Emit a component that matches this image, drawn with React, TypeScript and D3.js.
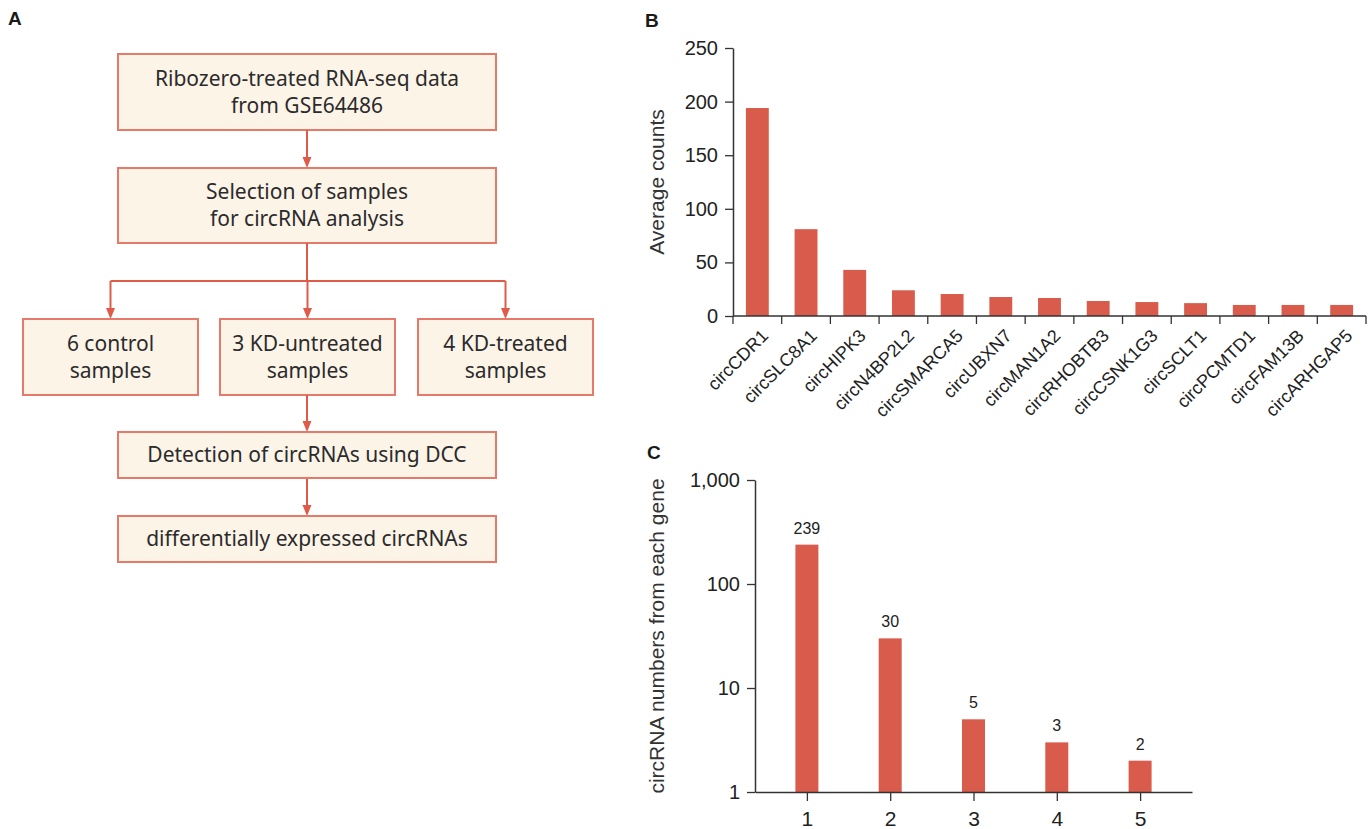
import React, { useEffect, useRef } from "react";
import * as d3 from "d3";

const width = 1370;
const height = 829;

// Panel A - flow chart texts
const flowMain = [
  ["Ribozero-treated RNA-seq data", "from GSE64486"],
  ["Selection of samples", "for circRNA analysis"],
];
const flowGroups = [
  ["6 control", "samples"],
  ["3 KD-untreated", "samples"],
  ["4 KD-treated", "samples"],
];
const flowBottom = [["Detection of circRNAs using DCC"], ["differentially expressed circRNAs"]];

// Panel B - average counts of top circRNAs
const circNames = [
  "circCDR1",
  "circSLC8A1",
  "circHIPK3",
  "circN4BP2L2",
  "circSMARCA5",
  "circUBXN7",
  "circMAN1A2",
  "circRHOBTB3",
  "circCSNK1G3",
  "circSCLT1",
  "circPCMTD1",
  "circFAM13B",
  "circARHGAP5",
];
const avgCounts = [194, 81, 43, 24, 20.5, 17.7, 16.8, 14, 13, 12, 10.3, 10.3, 10.3];
const bTicks = [0, 50, 100, 150, 200, 250];

// Panel C - circRNA numbers per gene
const circPerGeneCats = ["1", "2", "3", "4", "5"];
const circPerGene = [239, 30, 5, 3, 2];
const cTicks = [1, 10, 100, 1000];

const boxStroke = "#e7796a";
const boxFill = "#fdf4e8";
const arrowColor = "#de5b49";
const barColor = "#d95b4b";
const textColor = "#2b2b2b";
const flowFont = "'Noto Sans', sans-serif";
const axisFont = "'Liberation Sans', Arial, sans-serif";

export default function App() {
  const ref = useRef(null);

  useEffect(() => {
    const svg = d3.select(ref.current);
    svg.selectAll("*").remove();

    // panel letters
    const letters = [
      ["A", 8, 25],
      ["B", 645, 27],
      ["C", 647, 459],
    ];
    svg
      .selectAll(".panel-letter")
      .data(letters)
      .join("text")
      .attr("class", "panel-letter")
      .attr("x", d => d[1])
      .attr("y", d => d[2])
      .attr("font-family", axisFont)
      .attr("font-weight", "bold")
      .attr("font-size", 19)
      .attr("fill", "#1a1a1a")
      .text(d => d[0]);

    // ---------- Panel A ----------
    const gA = svg.append("g");

    const drawBox = (x, y, w, h, lines) => {
      gA.append("rect")
        .attr("x", x)
        .attr("y", y)
        .attr("width", w)
        .attr("height", h)
        .attr("fill", boxFill)
        .attr("stroke", boxStroke)
        .attr("stroke-width", 2);
      const cy = y + h / 2;
      const lh = 27;
      lines.forEach((t, i) => {
        gA.append("text")
          .attr("x", x + w / 2)
          .attr("y", cy + (i - (lines.length - 1) / 2) * lh + 7)
          .attr("text-anchor", "middle")
          .attr("font-family", flowFont)
          .attr("font-size", 21)
          .attr("fill", textColor)
          .text(t);
      });
    };

    const arrow = (x, y1, y2) => {
      gA.append("line")
        .attr("x1", x)
        .attr("x2", x)
        .attr("y1", y1)
        .attr("y2", y2 - 6)
        .attr("stroke", arrowColor)
        .attr("stroke-width", 2);
      gA.append("path")
        .attr("d", `M${x - 4.5},${y2 - 11}L${x + 4.5},${y2 - 11}L${x},${y2}Z`)
        .attr("fill", arrowColor);
    };

    const mainX = 118;
    const mainW = 378;
    const cx = mainX + mainW / 2;
    const mainY = [54, 168];
    const mainH = [76, 75];
    flowMain.forEach((lines, i) => drawBox(mainX, mainY[i], mainW, mainH[i], lines));
    arrow(cx, 130, 168);

    const groupX = [23, 220, 418];
    const groupW = 175;
    const groupY = 319;
    const groupH = 76;
    const splitY = 281;
    gA.append("line")
      .attr("x1", cx)
      .attr("x2", cx)
      .attr("y1", 243)
      .attr("y2", splitY)
      .attr("stroke", arrowColor)
      .attr("stroke-width", 2);
    gA.append("line")
      .attr("x1", groupX[0] + groupW / 2)
      .attr("x2", groupX[2] + groupW / 2)
      .attr("y1", splitY)
      .attr("y2", splitY)
      .attr("stroke", arrowColor)
      .attr("stroke-width", 2);
    flowGroups.forEach((lines, i) => {
      arrow(groupX[i] + groupW / 2, splitY, groupY);
      drawBox(groupX[i], groupY, groupW, groupH, lines);
    });

    const bottomY = [432, 516];
    arrow(cx, groupY + groupH, bottomY[0]);
    arrow(cx, bottomY[0] + 46, bottomY[1]);
    flowBottom.forEach((lines, i) => drawBox(mainX, bottomY[i], mainW, 46, lines));

    // ---------- Panel B ----------
    const bLeft = 733;
    const bRight = 1366;
    const bBase = 316;
    const xB = d3
      .scaleBand()
      .domain(circNames)
      .range([bLeft, bRight])
      .paddingInner(0.53)
      .paddingOuter(0.265);
    const yB = d3.scaleLinear().domain([0, 250]).range([bBase, 48]);

    const gB = svg.append("g");
    gB.selectAll("rect")
      .data(circNames)
      .join("rect")
      .attr("x", d => xB(d))
      .attr("width", xB.bandwidth())
      .attr("y", (d, i) => yB(avgCounts[i]))
      .attr("height", (d, i) => yB(0) - yB(avgCounts[i]))
      .attr("fill", barColor);

    gB.append("g")
      .attr("transform", `translate(${bLeft},0)`)
      .call(d3.axisLeft(yB).tickValues(bTicks).tickSize(8).tickPadding(7).tickSizeOuter(0))
      .call(g => g.select(".domain").attr("stroke", "#333").attr("stroke-width", 1.5))
      .call(g => g.selectAll(".tick line").attr("stroke", "#333").attr("stroke-width", 1.3))
      .call(g =>
        g.selectAll(".tick text")
          .attr("font-family", axisFont)
          .attr("font-size", 20)
          .attr("fill", "#222")
      );

    // x axis with ticks at band boundaries
    const step = xB.step();
    gB.append("line")
      .attr("x1", bLeft)
      .attr("x2", bRight)
      .attr("y1", bBase)
      .attr("y2", bBase)
      .attr("stroke", "#333")
      .attr("stroke-width", 1.5);
    gB.selectAll(".btick")
      .data(d3.range(circNames.length + 1))
      .join("line")
      .attr("class", "btick")
      .attr("x1", i => bLeft + i * step)
      .attr("x2", i => bLeft + i * step)
      .attr("y1", bBase)
      .attr("y2", bBase + 8)
      .attr("stroke", "#333")
      .attr("stroke-width", 1.3);
    gB.selectAll(".blabel")
      .data(circNames)
      .join("text")
      .attr("class", "blabel")
      .attr("transform", d => `translate(${xB(d) + xB.bandwidth() / 2 + 12},${bBase + 21}) rotate(-45)`)
      .attr("text-anchor", "end")
      .attr("font-family", axisFont)
      .attr("font-size", 18)
      .attr("fill", "#222")
      .text(d => d);

    gB.append("text")
      .attr("transform", `translate(664,182) rotate(-90)`)
      .attr("text-anchor", "middle")
      .attr("font-family", axisFont)
      .attr("font-size", 21)
      .attr("fill", "#333")
      .text("Average counts");

    // ---------- Panel C ----------
    const cLeft = 755;
    const cRight = 1192;
    const cBase = 792;
    const xC = d3.scalePoint().domain(circPerGeneCats).range([cLeft, cRight]).padding(0.623);
    const yC = d3.scaleLog().domain([1, 1000]).range([cBase, 480]);
    const cBarW = 23;

    const gC = svg.append("g");
    gC.selectAll("rect")
      .data(circPerGeneCats)
      .join("rect")
      .attr("x", d => xC(d) - cBarW / 2)
      .attr("width", cBarW)
      .attr("y", (d, i) => yC(circPerGene[i]))
      .attr("height", (d, i) => cBase - yC(circPerGene[i]))
      .attr("fill", barColor);

    gC.selectAll(".vlabel")
      .data(circPerGeneCats)
      .join("text")
      .attr("class", "vlabel")
      .attr("x", d => xC(d))
      .attr("y", (d, i) => yC(circPerGene[i]) - 11)
      .attr("text-anchor", "middle")
      .attr("font-family", axisFont)
      .attr("font-size", 16)
      .attr("fill", "#222")
      .text((d, i) => circPerGene[i]);

    gC.append("g")
      .attr("transform", `translate(${cLeft},0)`)
      .call(
        d3.axisLeft(yC)
          .tickValues(cTicks)
          .tickFormat(d3.format(","))
          .tickSize(8)
          .tickPadding(7)
          .tickSizeOuter(0)
      )
      .call(g => g.select(".domain").attr("stroke", "#333").attr("stroke-width", 1.5))
      .call(g => g.selectAll(".tick line").attr("stroke", "#333").attr("stroke-width", 1.3))
      .call(g =>
        g.selectAll(".tick text")
          .attr("font-family", axisFont)
          .attr("font-size", 20)
          .attr("fill", "#222")
      );

    gC.append("g")
      .attr("transform", `translate(0,${cBase})`)
      .call(d3.axisBottom(xC).tickSize(9).tickPadding(10).tickSizeOuter(0))
      .call(g => g.select(".domain").attr("stroke", "#333").attr("stroke-width", 1.5))
      .call(g => g.selectAll(".tick line").attr("stroke", "#333").attr("stroke-width", 1.3))
      .call(g =>
        g.selectAll(".tick text")
          .attr("font-family", axisFont)
          .attr("font-size", 21)
          .attr("fill", "#222")
      );

    gC.append("text")
      .attr("transform", `translate(664,636) rotate(-90)`)
      .attr("text-anchor", "middle")
      .attr("font-family", axisFont)
      .attr("font-size", 21)
      .attr("fill", "#333")
      .text("circRNA numbers from each gene");
  }, []);

  return (
    <svg
      ref={ref}
      width={width}
      height={height}
      viewBox={`0 0 ${width} ${height}`}
      style={{ position: "absolute", left: 0, top: 0, background: "#fff" }}
    ></svg>
  );
}
